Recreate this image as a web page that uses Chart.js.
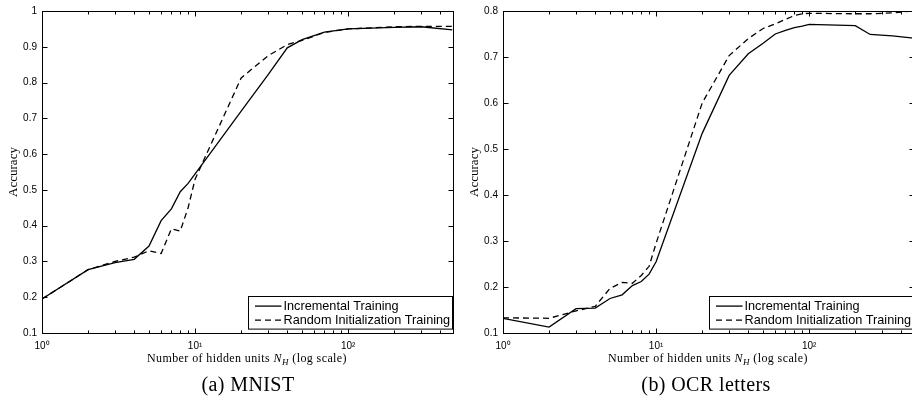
<!DOCTYPE html>
<html><head><meta charset="utf-8">
<script src="https://cdn.jsdelivr.net/npm/chart.js@4.4.1/dist/chart.umd.min.js"></script>
<style>
html,body{margin:0;padding:0;background:#fff;overflow:hidden;width:912px;height:405px;}
.wrap{position:absolute;top:0;width:460px;height:405px;}
canvas{display:block}
.xt{position:absolute;font-family:"Liberation Serif",serif;font-size:12px;line-height:14px;letter-spacing:0.4px;color:#000;white-space:nowrap;transform:translateX(-50%);}
.xt sub{font-size:9px;line-height:0;vertical-align:-3px;}
.cap{position:absolute;font-family:"Liberation Serif",serif;font-size:20px;line-height:23px;letter-spacing:0.4px;color:#000;white-space:nowrap;transform:translateX(-50%);}
</style></head><body>
<div class="wrap" style="left:0"><canvas id="c1" width="460" height="405"></canvas></div>
<div class="wrap" style="left:461px"><canvas id="c2" width="460" height="405"></canvas></div>
<div class="xt" style="left:247px;top:351px">Number of hidden units <i>N</i><sub><i>H</i></sub> (log scale)</div>
<div class="xt" style="left:708px;top:351px">Number of hidden units <i>N</i><sub><i>H</i></sub> (log scale)</div>
<div class="cap" style="left:248px;top:373px">(a) MNIST</div>
<div class="cap" style="left:706px;top:373px">(b) OCR letters</div>
<script>
// ---- data ----
const mnistN = [1,2,3,4,5,6,7,8,9,10,20,30,40,50,70,100,200,300,480];
const mnistIncremental = [0.195,0.277,0.297,0.306,0.343,0.414,0.447,0.495,0.518,0.545,0.720,0.822,0.897,0.920,0.941,0.950,0.954,0.956,0.947];
const mnistRandom      = [0.195,0.277,0.300,0.312,0.330,0.322,0.391,0.385,0.450,0.530,0.813,0.875,0.906,0.918,0.940,0.950,0.956,0.957,0.957];

const ocrN = [1,2,3,4,5,6,7,8,9,10,20,30,40,50,60,70,80,90,100,200,250,350,480];
const ocrIncremental = [0.132,0.113,0.153,0.154,0.175,0.183,0.203,0.212,0.228,0.255,0.534,0.660,0.707,0.730,0.750,0.758,0.764,0.767,0.771,0.768,0.749,0.746,0.741];
const ocrRandom      = [0.133,0.132,0.148,0.158,0.197,0.210,0.208,0.225,0.245,0.295,0.600,0.703,0.740,0.762,0.772,0.782,0.790,0.794,0.795,0.794,0.794,0.796,0.800];

const seriesLabels = ['Incremental Training','Random Initialization Training'];
const xTickValues = [1,10,100];
const xTickLabels = ['10\u2070','10\u00B9','10\u00B2'];
const mnistYTicks = [0.1,0.2,0.3,0.4,0.5,0.6,0.7,0.8,0.9,1];
const ocrYTicks = [0.1,0.2,0.3,0.4,0.5,0.6,0.7,0.8];
const xMin = 1, xMax = 480;

// ---- helpers ----
const tickFont = {family:'"Liberation Sans", Arial, sans-serif', size:10};

const framePlugin = {
  id:'frame',
  afterDatasetsDraw(chart){
    const ctx = chart.ctx, a = chart.chartArea;
    const xs = chart.scales.x, ys = chart.scales.y;
    const L = Math.round(a.left)+0.5, R = Math.round(a.right)+0.5, T = Math.round(a.top)+0.5, B = Math.round(a.bottom)+0.5;
    ctx.save();
    ctx.strokeStyle = '#000'; ctx.lineWidth = 1;
    ctx.strokeRect(L, T, R-L, B-T);
    // x ticks (inward, top and bottom)
    const minor = [];
    xTickValues.forEach(d => { for (let k=2;k<=9;k++){ const v=d*k; if (v<xMax) minor.push(v);} });
    ctx.beginPath();
    const drawX = (v, len) => {
      const px = Math.round(xs.getPixelForValue(v))+0.5;
      ctx.moveTo(px, B); ctx.lineTo(px, B-len);
      ctx.moveTo(px, T); ctx.lineTo(px, T+len);
    };
    xTickValues.forEach(v => drawX(v, 5));
    minor.forEach(v => drawX(v, 3));
    ys.ticks.forEach(t => {
      const py = Math.round(ys.getPixelForValue(t.value))+0.5;
      ctx.moveTo(L, py); ctx.lineTo(L+5, py);
      ctx.moveTo(R, py); ctx.lineTo(R-5, py);
    });
    ctx.stroke();
    // legend box
    const bw = 204, bh = 32.6;
    const bx = Math.round(a.right - 1 - bw)+0.5, by = Math.round(a.bottom - 37)+0.5;
    ctx.fillStyle = '#fff';
    ctx.fillRect(bx, by, bw, bh);
    ctx.strokeRect(bx, by, bw, bh);
    ctx.font = '12.7px "Liberation Sans", Arial, sans-serif';
    ctx.textBaseline = 'middle'; ctx.textAlign = 'left';
    chart.data.datasets.forEach((ds, i) => {
      const ly = by + 9.6 + i*14;
      ctx.beginPath();
      ctx.setLineDash(ds.borderDash || []);
      ctx.lineWidth = ds.borderWidth;
      ctx.moveTo(bx+6.5, ly); ctx.lineTo(bx+33, ly);
      ctx.stroke();
      ctx.setLineDash([]);
      ctx.fillStyle = '#000';
      ctx.fillText(ds.label, bx+35, ly+0.5);
    });
    ctx.restore();
  }
};

function makeChart(id, ns, inc, rnd, yTicks){
  const yMin = yTicks[0], yMax = yTicks[yTicks.length-1];
  return new Chart(document.getElementById(id), {
    type:'line',
    data:{
      datasets:[
        {label:seriesLabels[0], data:ns.map((n,i)=>({x:n,y:inc[i]})), borderColor:'#000', borderWidth:1.3, pointRadius:0, tension:0, fill:false},
        {label:seriesLabels[1], data:ns.map((n,i)=>({x:n,y:rnd[i]})), borderColor:'#000', borderWidth:1.3, borderDash:[6,4], pointRadius:0, tension:0, fill:false}
      ]
    },
    options:{
      responsive:false, animation:false, devicePixelRatio:1,
      layout:{padding:{top:9,right:7.5,bottom:0,left:0}},
      plugins:{legend:{display:false}, tooltip:{enabled:false}},
      scales:{
        x:{
          type:'logarithmic', min:xMin, max:xMax,
          grid:{display:false, drawTicks:false}, border:{display:false},
          afterBuildTicks:s=>{ s.ticks = xTickValues.map(v=>({value:v})); },
          afterFit:s=>{ s.height = 72; },
          ticks:{autoSkip:false, maxRotation:0, minRotation:0, padding:7, font:tickFont, color:'#000',
            callback:(v)=>{ const i = xTickValues.indexOf(v); return i>=0 ? xTickLabels[i] : null; }}
        },
        y:{
          min:yMin, max:yMax,
          grid:{display:false, drawTicks:false}, border:{display:false},
          afterBuildTicks:s=>{ s.ticks = yTicks.map(v=>({value:v})); },
          afterFit:s=>{ s.width = 42; },
          ticks:{padding:5, font:tickFont, color:'#000', callback:(v)=>String(Number(Number(v).toFixed(2)))},
          title:{display:true, text:'Accuracy', color:'#000', font:{family:'"Liberation Serif", serif', size:13}, padding:{top:6,bottom:0}}
        }
      }
    },
    plugins:[framePlugin]
  });
}

makeChart('c1', mnistN, mnistIncremental, mnistRandom, mnistYTicks);
makeChart('c2', ocrN, ocrIncremental, ocrRandom, ocrYTicks);
</script>
</body></html>
